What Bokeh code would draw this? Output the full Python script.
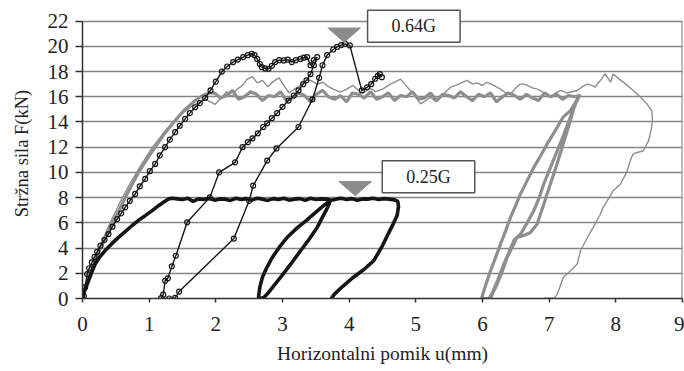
from bokeh.plotting import figure
from bokeh.models import Range1d, FixedTicker, Label
from bokeh.embed import file_html
from bokeh.resources import INLINE

# ---------------- data ----------------
x_ticks = [0, 1, 2, 3, 4, 5, 6, 7, 8, 9]
y_ticks = [0, 2, 4, 6, 8, 10, 12, 14, 16, 18, 20, 22]

# 0.25G test - thick black curve
bt_load_x = [0.00, 0.01, 0.03, 0.06, 0.09, 0.14, 0.19, 0.26, 0.34, 0.44, 0.54, 0.64, 0.74, 0.84, 0.94, 1.04, 1.14, 1.22, 1.29, 1.35]
bt_load_y = [0.00, 0.20, 0.60, 1.00, 1.40, 2.10, 2.73, 3.30, 3.80, 4.35, 4.85, 5.30, 5.77, 6.20, 6.57, 6.95, 7.36, 7.65, 7.90, 7.95]
bt_plat1_x = [1.42, 1.50, 1.58, 1.66, 1.74, 1.82, 1.90, 1.98, 2.06, 2.14, 2.22, 2.30, 2.38, 2.46, 2.54, 2.62, 2.70, 2.78, 2.86, 2.94, 3.02, 3.10, 3.18, 3.26, 3.34, 3.42, 3.50, 3.58, 3.66, 3.72]
bt_plat1_y = [7.90, 7.85, 7.95, 7.70, 7.90, 7.85, 7.95, 7.80, 7.90, 7.88, 7.78, 7.95, 7.85, 7.92, 7.80, 7.95, 7.88, 7.78, 7.92, 7.85, 7.95, 7.80, 7.88, 7.92, 7.78, 7.95, 7.85, 7.90, 7.88, 7.82]
bt_unload_x = [3.70, 3.66, 3.60, 3.52, 3.40, 3.27, 3.12, 2.97, 2.86, 2.77, 2.72, 2.67]
bt_unload_y = [7.50, 7.05, 6.45, 5.64, 4.70, 3.79, 2.70, 1.67, 0.95, 0.35, 0.08, 0.00]
bt_reload_x = [2.64, 2.66, 2.70, 2.76, 2.84, 2.95, 3.08, 3.22, 3.36, 3.48, 3.58, 3.65, 3.70]
bt_reload_y = [0.10, 0.90, 1.70, 2.40, 3.20, 4.05, 4.90, 5.60, 6.20, 6.75, 7.20, 7.50, 7.75]
bt_plat2_x = [3.80, 3.88, 3.96, 4.04, 4.12, 4.20, 4.28, 4.36, 4.44, 4.52, 4.60, 4.68, 4.73]
bt_plat2_y = [7.88, 7.95, 7.85, 7.92, 7.80, 7.90, 7.88, 7.95, 7.85, 7.92, 7.88, 7.82, 7.70]
bt_final_x = [4.74, 4.72, 4.66, 4.61, 4.50, 4.37, 4.22, 4.06, 3.90, 3.78, 3.73]
bt_final_y = [7.30, 6.60, 5.90, 5.38, 4.20, 3.00, 2.30, 1.67, 0.95, 0.35, 0.00]

# 0.64G test - black curve with circle markers
bm_load_x = [0.00, 0.02, 0.04, 0.07, 0.10, 0.14, 0.18, 0.22, 0.27, 0.33, 0.39, 0.45, 0.52, 0.58, 0.64, 0.71, 0.79, 0.86, 0.94, 1.01,
             1.09, 1.16, 1.24, 1.31, 1.39, 1.46, 1.54, 1.61, 1.69, 1.76, 1.84, 1.92, 2.00, 2.09, 2.17, 2.26, 2.33, 2.41, 2.48, 2.54]
bm_load_y = [0.00, 0.20, 0.90, 1.94, 2.40, 2.86, 3.30, 3.70, 4.19, 4.65, 5.11, 5.70, 6.30, 6.75, 7.23, 7.75, 8.29, 8.90, 9.48, 10.10,
             10.67, 11.35, 12.00, 12.60, 13.19, 13.70, 14.25, 14.70, 15.17, 15.50, 15.90, 16.50, 17.20, 18.00, 18.40, 18.75, 18.95, 19.15, 19.30, 19.41]
bm_plat_x = [2.58, 2.62, 2.66, 2.69, 2.74, 2.79, 2.84, 2.89, 2.95, 3.02, 3.08, 3.14, 3.20, 3.27, 3.32, 3.37, 3.42, 3.47, 3.52]
bm_plat_y = [19.30, 19.00, 18.60, 18.35, 18.25, 18.22, 18.45, 18.75, 18.90, 18.88, 18.95, 18.75, 18.90, 19.00, 19.10, 19.15, 18.50, 18.90, 19.15]
bm_unload_x = [3.47, 3.42, 3.36, 3.31, 3.24, 3.17, 3.09, 3.00, 2.92, 2.84, 2.77, 2.71, 2.63, 2.55, 2.48, 2.40, 2.29, 2.05, 1.91, 1.57,
               1.40, 1.34, 1.28, 1.24, 1.21, 1.18]
bm_unload_y = [18.50, 17.80, 17.30, 17.00, 16.50, 16.10, 15.70, 15.20, 14.70, 14.30, 13.90, 13.60, 13.10, 12.70, 12.40, 12.00, 10.80, 10.00, 8.02, 6.04,
               3.39, 2.55, 1.60, 1.40, 0.30, 0.03]
bm_reload_x = [1.30, 1.39, 1.45, 2.27, 2.50, 2.56, 2.77, 2.91, 3.24, 3.45, 3.55, 3.60, 3.67, 3.76, 3.82, 3.88, 3.94, 4.01, 4.19, 4.27,
               4.33, 4.39, 4.43, 4.46, 4.49]
bm_reload_y = [0.00, 0.05, 0.55, 4.75, 7.75, 8.95, 10.94, 11.90, 13.60, 15.80, 17.50, 18.50, 19.30, 19.75, 19.95, 20.10, 20.20, 20.07, 16.50, 16.75,
               17.00, 17.43, 17.65, 17.80, 17.55]

# thick grey curve
gk_load_x = [0.00, 0.03, 0.06, 0.12, 0.20, 0.27, 0.36, 0.45, 0.55, 0.64, 0.74, 0.84, 0.96, 1.09, 1.22, 1.37, 1.52, 1.69, 1.80, 1.90]
gk_load_y = [0.00, 0.60, 1.20, 2.20, 3.20, 4.00, 5.00, 6.00, 7.00, 8.00, 9.00, 10.00, 11.00, 12.00, 13.00, 14.00, 14.90, 15.70, 16.10, 16.30]
gk_plat_x = [1.98, 2.07, 2.16, 2.25, 2.34, 2.43, 2.52, 2.61, 2.70, 2.79,
             2.88, 2.97, 3.06, 3.15, 3.24, 3.33, 3.42, 3.51, 3.60, 3.69,
             3.78, 3.87, 3.96, 4.05, 4.14, 4.23, 4.32, 4.41, 4.50, 4.59,
             4.68, 4.77, 4.86, 4.95, 5.04, 5.13, 5.22, 5.31, 5.40, 5.49,
             5.58, 5.67, 5.76, 5.85, 5.94, 6.03, 6.12, 6.21, 6.30, 6.39,
             6.48, 6.57, 6.66, 6.75, 6.84, 6.93, 7.02, 7.11, 7.20, 7.29,
             7.38]
gk_plat_y = [16.3, 15.9, 16.1, 16.5, 15.8, 16.0, 16.4, 16.2, 15.7, 16.1,
             16.0, 16.4, 15.7, 15.9, 16.3, 16.1, 15.6, 16.2, 16.5, 16.0,
             15.8, 16.1, 15.6, 16.3, 16.2, 15.9, 16.4, 15.8, 16.0, 16.3,
             15.7, 16.1, 16.0, 16.4, 15.8, 15.9, 16.3, 15.7, 16.2, 16.1,
             15.9, 16.4, 16.0, 15.7, 16.2, 16.0, 16.3, 15.6, 16.0, 16.3,
             16.1, 15.8, 16.2, 15.9, 15.7, 16.3, 16.0, 16.2, 15.8, 16.1,
             16.0]
gk_down1_x = [7.45, 7.40, 7.32, 7.21, 7.09, 6.97, 6.87, 6.77, 6.67, 6.57, 6.50, 6.42, 6.35, 6.27, 6.20, 6.12, 6.05, 5.99, 6.02]
gk_down1_y = [16.10, 15.60, 14.90, 14.40, 13.30, 12.26, 11.30, 10.40, 9.35, 8.30, 7.40, 6.43, 5.40, 4.32, 3.30, 2.20, 1.10, 0.08, 0.00]
gk_up2_x = [6.10, 6.16, 6.24, 6.32, 6.40, 6.47, 6.57, 6.67, 6.77, 6.85, 6.92, 7.02, 7.12, 7.22, 7.32, 7.40, 7.46]
gk_up2_y = [0.00, 0.60, 1.60, 2.73, 3.70, 4.60, 5.10, 6.00, 6.97, 8.00, 9.10, 10.40, 11.70, 13.00, 14.40, 15.50, 16.20]
gk_down3_x = [7.44, 7.39, 7.30, 7.21, 7.12, 7.02, 6.92, 6.82, 6.72, 6.62, 6.52, 6.45, 6.37, 6.30, 6.22, 6.16, 6.12]
gk_down3_y = [15.90, 15.44, 13.80, 12.26, 10.70, 9.10, 7.50, 5.90, 5.24, 5.00, 4.85, 4.10, 3.26, 2.20, 1.14, 0.50, 0.00]

# thin grey curve
gn_rise_x = [0.00, 0.05, 0.12, 0.22, 0.33, 0.45, 0.58, 0.72, 0.88, 1.05, 1.24, 1.45, 1.65, 1.85]
gn_rise_y = [0.00, 0.80, 2.00, 3.50, 5.00, 6.40, 7.80, 9.20, 10.60, 12.00, 13.30, 14.50, 15.30, 15.80]
gn_plat_x = [1.99, 2.08, 2.16, 2.24, 2.32, 2.40, 2.47, 2.55, 2.62, 2.70,
             2.78, 2.86, 2.95, 3.03, 3.10, 3.18, 3.27, 3.35, 3.42, 3.52,
             3.61, 3.69, 3.76, 3.87, 3.96, 4.06, 4.14, 4.22, 4.30, 4.40,
             4.50, 4.62, 4.70, 4.77, 4.85, 4.92, 5.00, 5.07, 5.15, 5.22,
             5.30, 5.37, 5.45, 5.52, 5.60, 5.68, 5.77, 5.85, 5.92, 5.99,
             6.07, 6.17, 6.27, 6.35, 6.42, 6.50, 6.56, 6.62, 6.67, 6.75,
             6.82, 6.87, 6.95, 7.02, 7.10, 7.18, 7.26, 7.34, 7.42]
gn_plat_y = [15.40, 15.90, 16.40, 16.00, 16.60, 16.90, 17.40, 17.60, 17.10, 17.30,
             16.80, 17.20, 17.50, 16.80, 16.30, 16.60, 16.90, 17.30, 17.30, 17.00,
             17.15, 16.80, 16.60, 16.36, 16.60, 16.90, 16.50, 16.30, 16.70, 16.40,
             16.60, 17.00, 17.20, 17.40, 16.90, 16.50, 16.00, 15.44, 15.70, 15.97,
             15.60, 15.90, 16.40, 16.76, 16.90, 17.10, 17.30, 17.00, 17.10, 16.90,
             17.15, 16.90, 16.60, 16.30, 16.20, 16.70, 17.00, 17.00, 16.90, 16.70,
             16.60, 16.50, 16.20, 15.97, 16.30, 16.50, 16.30, 16.40, 16.50]
gn_peak_x = [7.50, 7.57, 7.64, 7.69, 7.73, 7.77, 7.84, 7.88, 7.92, 7.96, 8.05, 8.15, 8.26, 8.37, 8.47, 8.54, 8.55, 8.53, 8.49, 8.41,
             8.33, 8.26, 8.22, 8.17, 8.07, 7.96, 7.90, 7.81, 7.76, 7.66, 7.58, 7.47, 7.42, 7.32, 7.21, 7.16, 7.12, 7.08, 6.98, 6.92]
gn_peak_y = [16.80, 17.00, 16.90, 16.76, 17.10, 17.30, 17.82, 17.50, 17.15, 17.80, 17.40, 17.00, 16.50, 15.97, 15.40, 14.90, 14.10, 13.40, 12.50, 11.70,
             11.60, 11.47, 11.00, 10.10, 9.08, 8.55, 8.00, 7.23, 6.60, 5.64, 4.90, 3.79, 2.73, 2.20, 1.67, 0.90, 0.35, 0.05, 0.02, 0.05]

# annotations
ann_text = ["0.64G", "0.25G"]
ann_x = [4.97, 5.19]
ann_y = [21.59, 9.65]
tri_x = [3.925, 4.09]
tri_y = [20.33, 8.16]

# ---------------- styles ----------------
FONT = "Liberation Serif"
GREY = "#8e8e8e"
BLACK = "#151515"
TRI_HW = 0.245
TRI_H = 1.12
Y_TOP = 23.0   # headroom so the top label box is not clipped

black_thick_x = bt_load_x + bt_plat1_x + bt_unload_x + bt_reload_x + bt_plat2_x + bt_final_x
black_thick_y = bt_load_y + bt_plat1_y + bt_unload_y + bt_reload_y + bt_plat2_y + bt_final_y
black_mark_x = bm_load_x + bm_plat_x + bm_unload_x + bm_reload_x
black_mark_y = bm_load_y + bm_plat_y + bm_unload_y + bm_reload_y
grey_thick_x = gk_load_x + gk_plat_x + gk_down1_x + gk_up2_x + gk_down3_x
grey_thick_y = gk_load_y + gk_plat_y + gk_down1_y + gk_up2_y + gk_down3_y
grey_thin_x = gn_rise_x + gn_plat_x + gn_peak_x
grey_thin_y = gn_rise_y + gn_plat_y + gn_peak_y

p = figure(width=684, height=371, output_backend="svg", toolbar_location=None,
           x_range=Range1d(x_ticks[0], x_ticks[-1]), y_range=Range1d(y_ticks[0], Y_TOP),
           min_border_left=82, min_border_right=2, min_border_top=8, min_border_bottom=73)
p.background_fill_color = "white"
p.border_fill_color = "white"
p.outline_line_color = None

p.xgrid.grid_line_color = None
p.ygrid.ticker = FixedTicker(ticks=y_ticks)
p.ygrid.grid_line_color = "#858585"
p.ygrid.grid_line_width = 1.5

p.xaxis.ticker = FixedTicker(ticks=x_ticks)
p.yaxis.ticker = FixedTicker(ticks=y_ticks)
p.yaxis.bounds = (y_ticks[0], y_ticks[-1])
for ax in (p.xaxis[0], p.yaxis[0]):
    ax.axis_line_color = "#333333"
    ax.axis_line_width = 1.5
    ax.major_tick_line_color = "#333333"
    ax.major_tick_line_width = 1.5
    ax.major_tick_in = 0
    ax.minor_tick_in = 0
    ax.minor_tick_out = 0
    ax.major_label_text_font = FONT
    ax.major_label_text_font_size = "21px"
    ax.major_label_text_color = "#222222"
    ax.axis_label_text_font = FONT
    ax.axis_label_text_font_style = "normal"
    ax.axis_label_text_color = "#222222"
p.xaxis.major_tick_out = 4
p.xaxis.major_label_standoff = 14
p.xaxis.axis_label = "Horizontalni pomik u(mm)"
p.xaxis.axis_label_text_font_size = "19.5px"
p.xaxis.axis_label_standoff = 9
p.yaxis.major_tick_out = 7
p.yaxis.major_label_standoff = 7
p.yaxis.axis_label = "Stržna sila F(kN)"
p.yaxis.axis_label_text_font_size = "18.5px"
p.yaxis.axis_label_standoff = 13

# right-hand frame line
p.segment(x0=[x_ticks[-1]], y0=[y_ticks[0]], x1=[x_ticks[-1]], y1=[y_ticks[-1]],
          line_color="#7a7a7a", line_width=2)

p.line(grey_thin_x, grey_thin_y, line_color=GREY, line_width=1.4)
p.line(grey_thick_x, grey_thick_y, line_color=GREY, line_width=3.2)
p.line(black_thick_x, black_thick_y, line_color=BLACK, line_width=3.6)
p.line(black_mark_x, black_mark_y, line_color=BLACK, line_width=1.4)
p.scatter(black_mark_x, black_mark_y, marker="circle", size=5, fill_color="white",
          fill_alpha=0.0, line_color=BLACK, line_width=1.2)

tri_xs = [[tx - TRI_HW, tx + TRI_HW, tx] for tx in tri_x]
tri_ys = [[ty + TRI_H, ty + TRI_H, ty] for ty in tri_y]
p.patches(tri_xs, tri_ys, fill_color="#8c8c8c", line_color="#8c8c8c")

for t, lx, ly in zip(ann_text, ann_x, ann_y):
    p.add_layout(Label(x=lx, y=ly, text=t, text_align="center", text_baseline="middle",
                       text_font=FONT, text_font_size="18px", text_color="#222222",
                       background_fill_color="white", border_line_color="#555555",
                       border_line_width=1.5, padding=dict(x=24, y=6)))

open("out.html", "w").write(file_html(p, INLINE))
